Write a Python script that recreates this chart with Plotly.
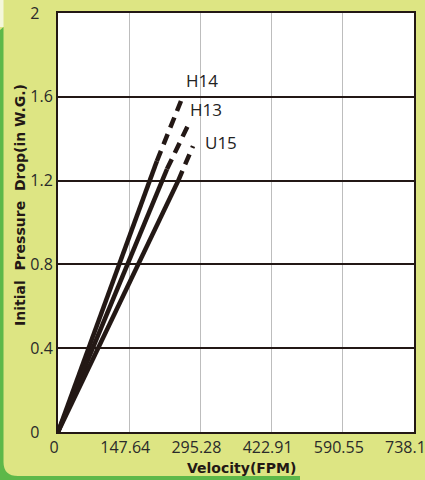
import plotly.graph_objects as go

# ---- data ----
series = ["H14", "H13", "U15"]
solid_velocity = [205, 226, 249]
solid_pressure = [1.293, 1.255, 1.198]
dash_velocity = [255, 272, 280]
dash_pressure = [1.58, 1.475, 1.365]
label_velocity = [299, 307, 338]
label_pressure = [1.677, 1.54, 1.38]

x_tickvals = [0, 147.638, 295.276, 442.914, 590.552, 738.19]
x_ticktext = ["0", "147.64", "295.28", "422.91", "590.55", "738.19"]
y_tickvals = [0, 0.4, 0.8, 1.2, 1.6, 2]
y_ticktext = ["0\u2008\u2007", "0.4", "0.8", "1.2", "1.6", "2\u2008\u2007"]

LINE = "#231815"
BG = "#DDE583"
GREEN = "#5DB849"

W, H = 425, 480
ML, MR, MT, MB = 58, 11, 13, 48
PW, PH = W - ML - MR, H - MT - MB


def px(x):
    return (x - ML) / PW


def py(y):
    return (H - MB - y) / PH


fig = go.Figure()

for i, name in enumerate(series):
    fig.add_trace(go.Scatter(
        x=[0, solid_velocity[i]], y=[0, solid_pressure[i]],
        mode="lines", line=dict(color=LINE, width=4.5),
        showlegend=False, hoverinfo="skip"))
    fig.add_trace(go.Scatter(
        x=[solid_velocity[i], dash_velocity[i]], y=[solid_pressure[i], dash_pressure[i]],
        mode="lines", line=dict(color=LINE, width=4.5, dash="11px,7px"),
        showlegend=False, hoverinfo="skip"))
    fig.add_annotation(x=label_velocity[i], y=label_pressure[i], text=name,
                       showarrow=False, xref="x", yref="y",
                       xanchor="center", yanchor="middle",
                       font=dict(family="Open Sans", size=17, color="#222222"))

# decorative panel edges
path = (f"M {px(0)},{py(30)} L {px(3.5)},{py(27)} L {px(3.5)},{py(462)} "
        f"Q {px(3.5)},{py(476)} {px(18)},{py(476)} L {px(300)},{py(476)} "
        f"L {px(300)},{py(480)} L {px(0)},{py(480)} Z")
fig.add_shape(type="path", path=path, xref="paper", yref="paper",
              fillcolor=GREEN, line=dict(width=0), layer="below")
fig.add_shape(type="rect", xref="paper", yref="paper",
              x0=px(0), x1=px(3.5), y0=py(27), y1=py(0),
              fillcolor="#F4F7DA", line=dict(width=0), layer="below")

# axis titles
fig.add_annotation(text="Initial\u00a0\u00a0Pressure\u00a0\u00a0Drop(in\u00a0W.G.)",
                   xref="paper", yref="paper", x=px(20), y=py(205),
                   xanchor="center", yanchor="middle",
                   textangle=-90, showarrow=False,
                   font=dict(family="DejaVu Sans", size=14, color=LINE, weight="bold"))
fig.add_annotation(text="Velocity(FPM)", xref="paper", yref="paper",
                   x=px(241), y=py(468), xanchor="center", yanchor="middle",
                   showarrow=False,
                   font=dict(family="DejaVu Sans", size=14, color=LINE, weight="bold"))

fig.update_layout(
    width=W, height=H,
    margin=dict(l=ML, r=MR, t=MT, b=MB, autoexpand=False),
    paper_bgcolor=BG, plot_bgcolor="white",
    showlegend=False,
    xaxis=dict(range=[0, 738.19], tickvals=x_tickvals, ticktext=x_ticktext,
               showgrid=True, gridcolor="#BDBDBD", gridwidth=1,
               showline=True, linecolor=LINE, linewidth=2, mirror=True,
               zeroline=False, ticks="", ticklen=0, automargin=False,
               ticklabeloverflow="allow", ticklabelshift=-4,
               tickfont=dict(family="Open Sans", size=16, color="#2a2a2a")),
    yaxis=dict(range=[0, 2], tickvals=y_tickvals, ticktext=y_ticktext,
               showgrid=True, gridcolor=LINE, gridwidth=1.6,
               showline=True, linecolor=LINE, linewidth=2, mirror=True,
               zeroline=False, ticks="", ticklen=0, automargin=False,
               ticklabeloverflow="allow",
               tickfont=dict(family="Open Sans", size=16, color="#2a2a2a")),
)

fig.write_html("out.html",
               config={"displayModeBar": False},
               post_script="document.body.style.margin='0';"
                           "document.body.style.overflow='hidden';")
